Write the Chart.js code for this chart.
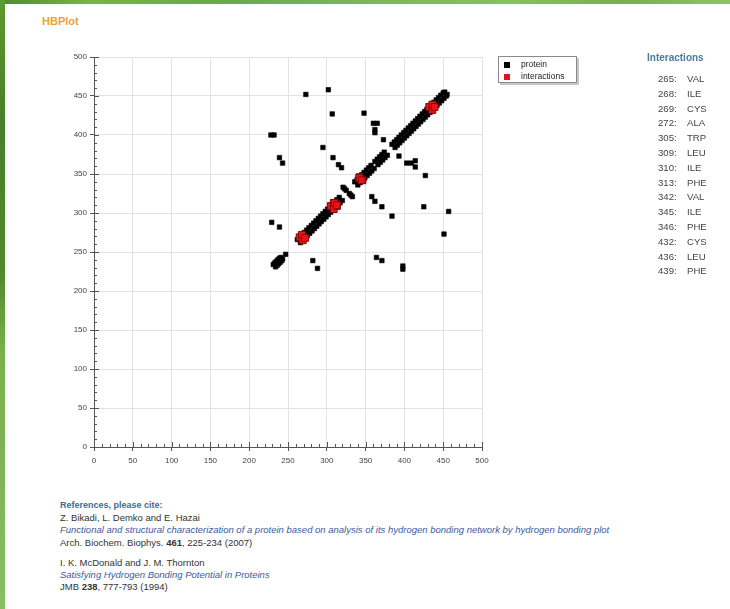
<!DOCTYPE html>
<html>
<head>
<meta charset="utf-8">
<script src="https://cdn.jsdelivr.net/npm/chart.js@4"></script>
<style>
  html, body { margin:0; padding:0; background:#fff; }
  body { width:730px; height:609px; position:relative; overflow:hidden; font-family:"Liberation Sans", Arial, sans-serif; }
  #topbar { position:absolute; left:0; top:0; width:730px; height:4px;
    background:linear-gradient(90deg,#4f8c2a 0%,#78b443 12%,#6aa84a 30%,#7db65a 50%,#86c25a 70%,#7ab04a 85%,#8cc466 100%); }
  #leftbar { position:absolute; left:0; top:0; width:5px; height:609px;
    background:linear-gradient(180deg,#5a9a2e 0%,#4a7f2a 20%,#4e8a2c 45%,#7ab24e 58%,#7cb456 75%,#86c060 100%); }
  .abs { position:absolute; white-space:nowrap; }
  #title { left:42px; top:14px; font-size:11px; line-height:14px; font-weight:bold; color:#e8a33c; }
  #legend { left:498px; top:56px; width:77px; height:25px; border:1px solid #8a8a8a; box-shadow:2px 2px 0 #c8c8c8; background:#fff; }
  .lrow { position:absolute; left:5px; font-size:8.5px; line-height:10px; color:#222; }
  .lsw { display:inline-block; width:6px; height:6px; margin-right:11px; vertical-align:-0.5px; }
  #ihead { left:647px; top:52px; font-size:10px; line-height:12px; font-weight:bold; color:#4d7b9a; }
  .irow { position:absolute; font-size:9.6px; line-height:12px; color:#444; }
  .refs { left:60px; font-size:9.5px; line-height:12px; color:#333; }
  .rhead { font-weight:bold; color:#3f6d8c; font-size:9px; }
  .rtitle { font-style:italic; color:#3d5c9c; }
</style>
</head>
<body>
<div id="topbar"></div>
<div id="leftbar"></div>
<div id="title" class="abs">HBPlot</div>
<canvas id="c" width="460" height="440" style="position:absolute;left:40px;top:45px;"></canvas>
<div id="legend" class="abs"></div>
<div id="ihead" class="abs">Interactions</div>
<div id="ilist"></div>
<div id="refs"></div>
<script>
// ---------------- data ----------------
const legendLabels = ["protein", "interactions"];
const xTickLabels = [0, 50, 100, 150, 200, 250, 300, 350, 400, 450, 500];
const yTickLabels = [0, 50, 100, 150, 200, 250, 300, 350, 400, 450, 500];

// protein hydrogen bonds (residue i, residue j)
const proteinDiagonal = [
  [231,234],[234,231],[233,236],[236,233],[235,238],[238,235],[237,240],[240,237],[239,242],[242,239],[241,243],[243,241],[234,235],[238,239],[247,247],
  [262,266],[266,262],[265,269],[269,265],[268,272],[272,268],[271,275],[275,271],[274,278],[278,274],[277,281],[281,277],[280,284],[284,280],
  [283,287],[287,283],[286,290],[290,286],[289,293],[293,289],[292,296],[296,292],[295,299],[299,295],[298,302],[302,298],[301,305],[305,301],
  [304,308],[308,304],[307,311],[311,307],[310,314],[314,310],[313,317],[317,313],[316,320],[320,316],
  [321,333],[323,331],[325,329],[329,325],[331,323],[333,321],
  [336,340],[340,336],[339,343],[343,339],[342,346],[346,342],[345,349],[349,345],[348,352],[352,348],[351,355],[355,351],[354,358],[358,354],
  [357,361],[361,357],[362,366],[366,362],[365,369],[369,365],[368,372],[372,368],[371,375],[375,371],[374,378],[378,374],
  [384,388],[388,384],[387,391],[391,387],[390,394],[394,390],[393,397],[397,393],[396,400],[400,396],[399,403],[403,399],[402,406],[406,402],
  [405,409],[409,405],[408,412],[412,408],[411,415],[415,411],[414,418],[418,414],[417,421],[421,417],[420,424],[424,420],[423,427],[427,423],
  [426,430],[430,426],[429,433],[433,429],[432,436],[436,432],[435,439],[439,435],[438,442],[442,438],[441,445],[445,441],[444,448],[448,444],
  [447,451],[451,447],[450,454],[454,450],[452,455],[455,452]
];
const proteinOffDiagonal = [
  [273,452],[451,273],[302,458],[457,302],[307,427],[425,308],[348,428],[427,348],
  [360,415],[365,415],[362,407],[362,403],[403,364],[409,364],[414,367],[414,359],
  [373,394],[393,373],[228,400],[232,400],[398,228],[398,232],[295,384],[384,296],
  [239,371],[371,239],[243,364],[364,243],[308,371],[371,308],
  [315,362],[319,358],[362,315],[358,321],[229,288],[288,229],[239,282],[282,239]
];
const interactionPoints = [
  [265,269],[269,265],[268,272],[272,268],[305,309],[309,305],[309,313],[313,309],[310,313],[313,310],
  [342,346],[346,342],[342,345],[345,342],[432,436],[436,432],[436,439],[439,436]
];
const interactionResidues = ["265","268","269","272","305","309","310","313","342","345","346","432","436","439"];
const interactionNames = ["VAL","ILE","CYS","ALA","TRP","LEU","ILE","PHE","VAL","ILE","PHE","CYS","LEU","PHE"];

// ---------------- html texts ----------------
const legend = document.getElementById('legend');
const swatchColors = ['#000', '#e0141c'];
legendLabels.forEach((t, i) => {
  const d = document.createElement('div');
  d.className = 'lrow';
  d.style.top = (2 + i * 12) + 'px';
  d.innerHTML = '<span class="lsw" style="background:' + swatchColors[i] + '"></span>' + t;
  legend.appendChild(d);
});
const ilist = document.getElementById('ilist');
interactionResidues.forEach((r, i) => {
  const top = 73 + i * 14.8;
  const a = document.createElement('div');
  a.className = 'irow'; a.style.left = '658px'; a.style.top = top + 'px'; a.textContent = r + ':';
  const b = document.createElement('div');
  b.className = 'irow'; b.style.left = '687px'; b.style.top = top + 'px'; b.textContent = interactionNames[i];
  ilist.appendChild(a); ilist.appendChild(b);
});
const refLines = [
  [499, '<span class="rhead">References, please cite:</span>'],
  [512, 'Z. Bikadi, L. Demko and E. Hazai'],
  [524, '<span class="rtitle">Functional and structural characterization of a protein based on analysis of its hydrogen bonding network by hydrogen bonding plot</span>'],
  [537, 'Arch. Biochem. Biophys. <b>461</b>, 225-234 (2007)'],
  [557, 'I. K. McDonald and J. M. Thornton'],
  [569, '<span class="rtitle">Satisfying Hydrogen Bonding Potential in Proteins</span>'],
  [581, 'JMB <b>238</b>, 777-793 (1994)']
];
const refs = document.getElementById('refs');
refLines.forEach(([top, html]) => {
  const d = document.createElement('div');
  d.className = 'abs refs'; d.style.top = top + 'px'; d.innerHTML = html;
  refs.appendChild(d);
});

// ---------------- chart ----------------
const toXY = arr => arr.map(p => ({x: p[0], y: p[1]}));
const minorTicks = {
  id: 'minorTicks',
  afterDraw(chart) {
    const ctx = chart.ctx, xs = chart.scales.x, ys = chart.scales.y;
    const a = chart.chartArea;
    ctx.save();
    ctx.strokeStyle = '#555';
    ctx.lineWidth = 1;
    ctx.beginPath();
    for (let v = xs.min; v <= xs.max; v += 10) {
      const px = Math.round(xs.getPixelForValue(v)) + 0.5;
      const len = (v % 50 === 0) ? 5 : 3;
      ctx.moveTo(px, a.bottom); ctx.lineTo(px, a.bottom - len);
    }
    for (let v = ys.min; v <= ys.max; v += 10) {
      const py = Math.round(ys.getPixelForValue(v)) + 0.5;
      const len = (v % 50 === 0) ? 5 : 3;
      ctx.moveTo(a.left, py); ctx.lineTo(a.left + len, py);
    }
    ctx.stroke();
    ctx.restore();
  }
};
const tickFont = {family: '"Liberation Sans", Arial, sans-serif', size: 8};
new Chart(document.getElementById('c'), {
  type: 'scatter',
  data: {
    datasets: [
      {
        label: legendLabels[0],
        data: toXY(proteinDiagonal.concat(proteinOffDiagonal)),
        pointStyle: 'rect', pointRadius: 3.2, pointBorderWidth: 0.6,
        backgroundColor: '#000', borderColor: '#000', order: 1
      },
      {
        label: legendLabels[1],
        data: toXY(interactionPoints),
        pointStyle: 'rect', pointRadius: 4.8, pointBorderWidth: 1,
        backgroundColor: '#e8141c', borderColor: '#8a0a0a', order: 0
      }
    ]
  },
  options: {
    responsive: false, animation: false,
    layout: {padding: {left: 0, top: 12, right: 18, bottom: 0}},
    plugins: {legend: {display: false}, tooltip: {enabled: false}},
    scales: {
      x: {
        type: 'linear', min: 0, max: 500,
        afterFit(axis) { axis.height = 38; },
        afterBuildTicks(axis) { axis.ticks = xTickLabels.map(v => ({value: v})); },
        ticks: {font: tickFont, color: '#444', padding: 5, maxRotation: 0, autoSkip: false},
        grid: {color: '#e3e3e3', lineWidth: 1, tickLength: 4, tickColor: '#555'},
        border: {color: '#555', width: 1}
      },
      y: {
        type: 'linear', min: 0, max: 500,
        afterFit(axis) { axis.width = 54; },
        afterBuildTicks(axis) { axis.ticks = yTickLabels.map(v => ({value: v})); },
        ticks: {font: tickFont, color: '#444', padding: 3, autoSkip: false},
        grid: {color: '#e3e3e3', lineWidth: 1, tickLength: 4, tickColor: '#555'},
        border: {color: '#555', width: 1}
      }
    }
  },
  plugins: [minorTicks]
});
</script>
</body>
</html>
